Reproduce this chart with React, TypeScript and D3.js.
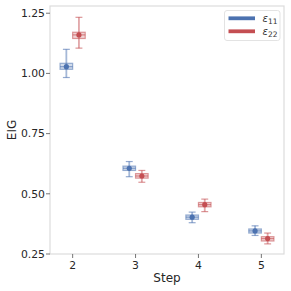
import React from "react";
import * as d3 from "d3";

const steps = [2, 3, 4, 5];
const yTicks = [0.25, 0.5, 0.75, 1.0, 1.25];
// [low whisker, q1, median, q3, high whisker]
const eps11 = [
  [0.983, 1.017, 1.028, 1.042, 1.1],
  [0.571, 0.597, 0.606, 0.615, 0.634],
  [0.38, 0.394, 0.403, 0.412, 0.424],
  [0.327, 0.337, 0.346, 0.354, 0.367],
];
const eps22 = [
  [1.105, 1.145, 1.16, 1.171, 1.233],
  [0.548, 0.565, 0.574, 0.584, 0.597],
  [0.426, 0.446, 0.455, 0.464, 0.478],
  [0.292, 0.304, 0.314, 0.322, 0.337],
];
const seriesNames = ["11", "22"];
const colors = ["#4c72b0", "#c44e52"];
const offsets = [-0.1, 0.1];

const W = 291, H = 291;
const L = 50, R = 284, T = 6, B = 254;
const FONT = "'DejaVu Sans', sans-serif";

export default function App() {
  const x = d3.scaleLinear().domain([1.64, 5.36]).range([L, R]);
  const y = d3.scaleLinear().domain([0.25, 1.28]).range([B, T]);
  const boxW = x(0.2) - x(0);
  const capW = boxW * 0.55;
  const all = [eps11, eps22];
  return (
    <svg width={W} height={H} style={{ position: "absolute", left: 0, top: 0, background: "#fff" }}>
      <rect x={0} y={0} width={W} height={H} fill="#fff" />
      {/* spines */}
      <rect x={L} y={T} width={R - L} height={B - T} fill="none" stroke="#dcdcdc" strokeWidth={1.2} />
      {/* y ticks */}
      {yTicks.map((t) => (
        <g key={t}>
          <line x1={L - 4} x2={L} y1={y(t)} y2={y(t)} stroke="#666" strokeWidth={0.9} />
          <text x={L - 5} y={y(t)} dy="0.36em" textAnchor="end" fontFamily={FONT} fontSize={10.8} fill="#262626">
            {d3.format(".2f")(t)}
          </text>
        </g>
      ))}
      {/* x ticks */}
      {steps.map((s) => (
        <g key={s}>
          <line x1={x(s)} x2={x(s)} y1={B} y2={B + 4} stroke="#666" strokeWidth={0.9} />
          <text x={x(s)} y={B + 15} textAnchor="middle" fontFamily={FONT} fontSize={10.8} fill="#262626">
            {s}
          </text>
        </g>
      ))}
      <text x={(L + R) / 2} y={281.5} textAnchor="middle" fontFamily={FONT} fontSize={12} fill="#262626">Step</text>
      <text transform={`translate(16,${(T + B) / 2}) rotate(-90)`} textAnchor="middle" fontFamily={FONT} fontSize={12} fill="#262626">EIG</text>
      {/* boxes */}
      {all.map((ser, si) =>
        ser.map((v, i) => {
          const cx = x(steps[i] + offsets[si]);
          const c = colors[si];
          const [lo, q1, med, q3, hi] = v;
          return (
            <g key={`${si}-${i}`}>
              <line x1={cx} x2={cx} y1={y(hi)} y2={y(lo)} stroke={c} strokeOpacity={0.5} strokeWidth={1.8} />
              <line x1={cx - capW / 2} x2={cx + capW / 2} y1={y(hi)} y2={y(hi)} stroke={c} strokeOpacity={0.6} strokeWidth={1.2} />
              <line x1={cx - capW / 2} x2={cx + capW / 2} y1={y(lo)} y2={y(lo)} stroke={c} strokeOpacity={0.6} strokeWidth={1.2} />
              <rect x={cx - boxW / 2} y={y(q3)} width={boxW} height={y(q1) - y(q3)} fill={c} fillOpacity={0.25} stroke={c} strokeOpacity={0.55} strokeWidth={1.2} />
              <line x1={cx - boxW / 2} x2={cx + boxW / 2} y1={y(med)} y2={y(med)} stroke={c} strokeOpacity={0.6} strokeWidth={1.2} />
              <circle cx={cx} cy={y(med)} r={2.6} fill={c} />
            </g>
          );
        })
      )}
      {/* legend */}
      <g>
        <rect x={224.5} y={10.5} width={55.5} height={30} rx={2.5} fill="#fff" fillOpacity={0.8} stroke="#e0e0e0" strokeWidth={0.9} />
        {seriesNames.map((n, i) => (
          <g key={n}>
            <line x1={228.5} x2={255} y1={18.3 + i * 13} y2={18.3 + i * 13} stroke={colors[i]} strokeWidth={3.8} />
            <text x={262.5} y={18.3 + i * 13} dy="0.33em" fontFamily={FONT} fontSize={10} fill="#333">
              <tspan fontStyle="italic">ε</tspan>
              <tspan fontSize={7.5} dy="2.5">{n}</tspan>
            </text>
          </g>
        ))}
      </g>
    </svg>
  );
}
